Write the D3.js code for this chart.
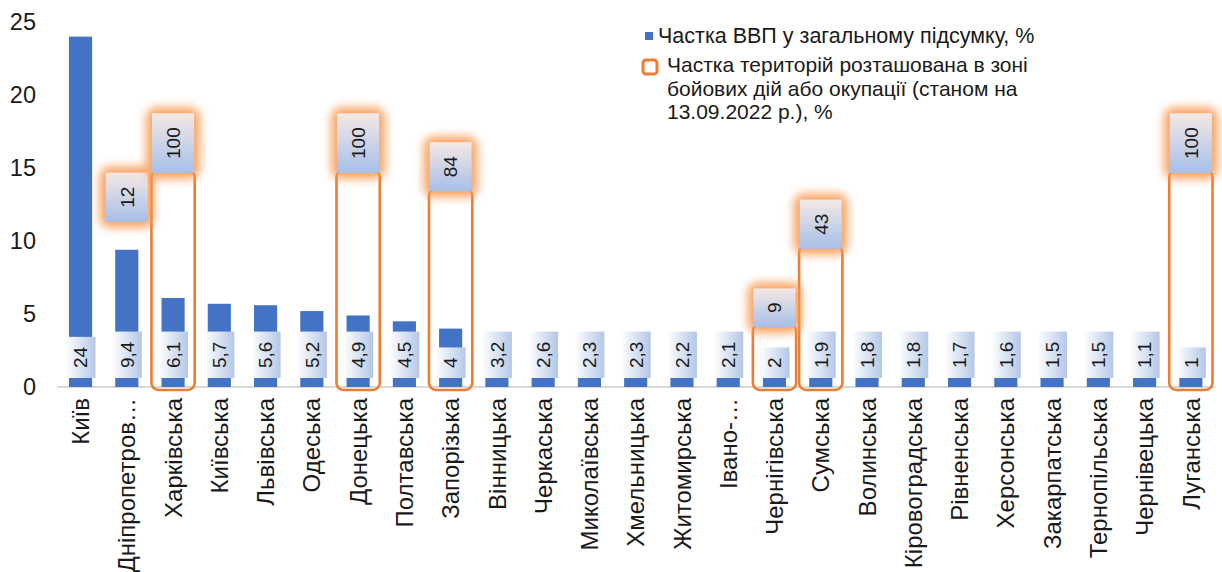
<!DOCTYPE html>
<html>
<head>
<meta charset="utf-8">
<script src="https://cdn.jsdelivr.net/npm/d3@7"></script>
<style>
  html, body { margin: 0; padding: 0; background: #ffffff; }
  svg { display: block; font-family: "Liberation Sans", Arial, Helvetica, sans-serif; }
</style>
</head>
<body>
<svg id="chart" width="1222" height="572"></svg>
<script>
// ---- data ----
const categories = ["Київ", "Дніпропетровська", "Харківська", "Київська", "Львівська", "Одеська",
  "Донецька", "Полтавська", "Запорізька", "Вінницька", "Черкаська", "Миколаївська",
  "Хмельницька", "Житомирська", "Івано-Франківська", "Чернігівська", "Сумська", "Волинська",
  "Кіровоградська", "Рівненська", "Херсонська", "Закарпатська", "Тернопільська", "Чернівецька", "Луганська"];
const tickLabels = ["Київ", "Дніпропетров…", "Харківська", "Київська", "Львівська", "Одеська",
  "Донецька", "Полтавська", "Запорізька", "Вінницька", "Черкаська", "Миколаївська",
  "Хмельницька", "Житомирська", "Івано-…", "Чернігівська", "Сумська", "Волинська",
  "Кіровоградська", "Рівненська", "Херсонська", "Закарпатська", "Тернопільська", "Чернівецька", "Луганська"];
const gdpShare = [24, 9.4, 6.1, 5.7, 5.6, 5.2, 4.9, 4.5, 4, 3.2, 2.6, 2.3, 2.3, 2.2, 2.1, 2, 1.9, 1.8, 1.8, 1.7, 1.6, 1.5, 1.5, 1.1, 1];
const territoryShare = [null, 12, 100, null, null, null, 100, null, 84, null, null, null, null, null, null, 9, 43, null, null, null, null, null, null, null, 100];
const framedRegions = ["Харківська", "Донецька", "Запорізька", "Чернігівська", "Сумська", "Луганська"];
const yTicks = [0, 5, 10, 15, 20, 25];
const legendGdp = ["Частка ВВП у загальному підсумку, %"];
const legendTerritory = ["Частка територій розташована в зоні", "бойових дій або окупації (станом на", "13.09.2022 р.), %"];

// ---- setup ----
const svg = d3.select("#chart");
const BLUE = "#4472C4", ORANGE = "#ED7D31", TEXT = "#1a1a1a";
const fmt = v => String(v).replace(".", ",");

const defs = svg.append("defs");
const g1 = defs.append("linearGradient").attr("id", "gdpGrad").attr("x1", 0).attr("x2", 1).attr("y1", 0).attr("y2", 0);
g1.append("stop").attr("offset", 0).attr("stop-color", "#ffffff");
g1.append("stop").attr("offset", 1).attr("stop-color", "#b4c7e7");
const g2 = defs.append("linearGradient").attr("id", "terrGrad").attr("x1", 0).attr("x2", 0).attr("y1", 0).attr("y2", 1);
g2.append("stop").attr("offset", 0).attr("stop-color", "#f4e8e4");
g2.append("stop").attr("offset", 1).attr("stop-color", "#a7bfe9");
defs.append("filter").attr("id", "glow").attr("x", "-60%").attr("y", "-60%").attr("width", "220%").attr("height", "220%")
  .append("feGaussianBlur").attr("stdDeviation", 5);

const x = d3.scaleBand().domain(categories).range([57.4, 1214]).paddingInner(0.5).paddingOuter(0.25);
const y = d3.scaleLinear().domain([0, 25]).range([387, 22]);
const y2 = d3.scaleSqrt().domain([0, 100]).range([390, 170]);
const cx = c => x(c) + x.bandwidth() / 2;

// y axis (labels only)
const yAxis = svg.append("g").attr("transform", "translate(36,0)")
  .call(d3.axisLeft(y).tickValues(yTicks).tickSize(0).tickPadding(0));
yAxis.select(".domain").remove();
yAxis.selectAll("text").attr("font-size", 23.5).attr("fill", TEXT)
  .attr("font-family", "'Liberation Sans', Arial, sans-serif");

// x axis
const xAxis = svg.append("g").attr("transform", `translate(0,${y(0)})`)
  .call(d3.axisBottom(x).tickSize(0).tickFormat((d, i) => tickLabels[i]));
xAxis.select(".domain").attr("stroke", "#d9d9d9").attr("stroke-width", 2)
  .attr("d", `M57,0H1215`);
xAxis.selectAll("text")
  .attr("font-size", 24).attr("fill", TEXT)
  .attr("font-family", "'Liberation Sans', Arial, sans-serif")
  .attr("text-anchor", "end")
  .attr("transform", "translate(0,11) rotate(-90)")
  .attr("x", 0).attr("y", 0).attr("dy", "0.36em");

// bars
svg.append("g").selectAll("rect").data(categories).join("rect")
  .attr("x", d => x(d)).attr("width", x.bandwidth())
  .attr("y", (d, i) => y(gdpShare[i]))
  .attr("height", (d, i) => y(0) - y(gdpShare[i]))
  .attr("fill", BLUE);

// gdp value labels (bottom, rotated)
const gl = svg.append("g").selectAll("g").data(categories).join("g")
  .attr("transform", d => `translate(${cx(d)},378)`);
gl.each(function (d, i) {
  const g = d3.select(this);
  const rect = g.append("rect").attr("fill", "url(#gdpGrad)");
  const t = g.append("text").text(fmt(gdpShare[i]))
    .attr("font-size", 19).attr("fill", TEXT)
    .attr("transform", "rotate(-90)").attr("dy", "0.36em");
  const len = t.node().getComputedTextLength();
  const h = len + 20, w = 30;
  rect.attr("x", -w / 2).attr("y", -h).attr("width", w).attr("height", h);
  t.attr("x", h / 2).attr("text-anchor", "middle");
});

// orange frames (territory share)
svg.append("g").selectAll("rect")
  .data(categories.map((c, i) => ({ c, v: territoryShare[i] })).filter(d => d.v != null && framedRegions.includes(d.c)))
  .join("rect")
  .attr("x", d => cx(d.c) - x.step() / 2 + 1.5)
  .attr("width", x.step() - 3)
  .attr("y", d => y2(d.v))
  .attr("height", d => y2(0) - y2(d.v))
  .attr("rx", 7)
  .attr("fill", "none").attr("stroke", ORANGE).attr("stroke-width", 2.6);

// territory value labels (with glow)
const tl = svg.append("g").selectAll("g")
  .data(categories.map((c, i) => ({ c, i, v: territoryShare[i] })).filter(d => d.v != null))
  .join("g");
tl.each(function (d) {
  const g = d3.select(this);
  const bottom = Math.min(y2(d.v) + 3, y(gdpShare[d.i]) - 28);
  g.attr("transform", `translate(${cx(d.c)},${bottom})`);
  const glow = g.append("rect").attr("fill", "#F79A52").attr("filter", "url(#glow)").attr("opacity", 0.9);
  const rect = g.append("rect").attr("fill", "url(#terrGrad)");
  const t = g.append("text").text(fmt(d.v))
    .attr("font-size", 19).attr("fill", TEXT)
    .attr("transform", "rotate(-90)").attr("dy", "0.36em");
  const len = t.node().getComputedTextLength();
  const h = len + 28, w = 42;
  rect.attr("x", -w / 2).attr("y", -h).attr("width", w).attr("height", h);
  glow.attr("x", -w / 2 - 6).attr("y", -h - 6).attr("width", w + 12).attr("height", h + 12).attr("rx", 10);
  t.attr("x", h / 2).attr("text-anchor", "middle");
});

// legend
const lg = svg.append("g");
lg.append("rect").attr("x", 645).attr("y", 32).attr("width", 8).attr("height", 8).attr("fill", BLUE);
lg.append("text").attr("x", 658).attr("y", 43).attr("font-size", 21.5).attr("fill", TEXT).text(legendGdp[0]);
lg.append("rect").attr("x", 643).attr("y", 60).attr("width", 14).attr("height", 14).attr("rx", 3)
  .attr("fill", "#fff").attr("stroke", ORANGE).attr("stroke-width", 3);
lg.selectAll("text.t2").data(legendTerritory).join("text").attr("class", "t2")
  .attr("x", 667).attr("y", (d, i) => 72 + i * 23.5)
  .attr("font-size", 21).attr("fill", TEXT).text(d => d);
</script>
</body>
</html>
